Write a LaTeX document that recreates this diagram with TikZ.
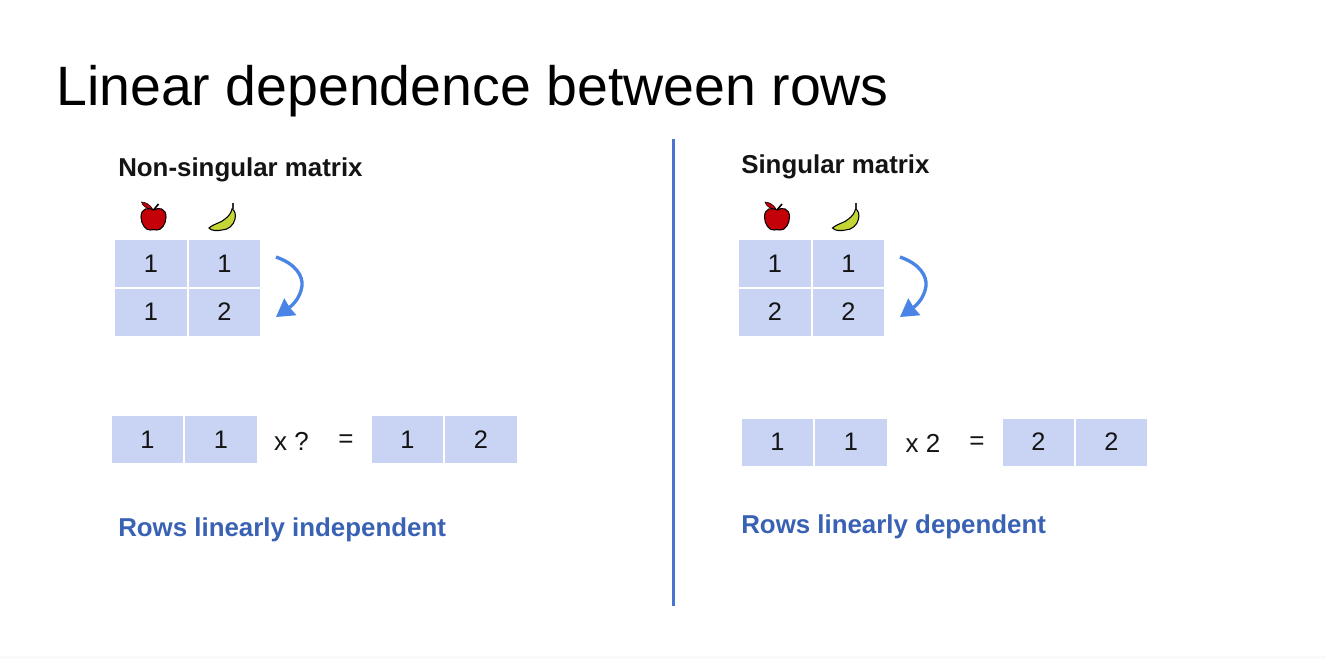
\documentclass[tikz,border=0pt]{standalone}
\usepackage{fontspec}
\setmainfont{Liberation Sans}
\usetikzlibrary{arrows.meta}
\definecolor{cellblue}{HTML}{C9D3F3}
\definecolor{arrowblue}{HTML}{4A84E4}
\definecolor{rulecol}{HTML}{4A74CF}
\definecolor{labelblue}{HTML}{3A62B4}
\definecolor{textblack}{HTML}{141414}
\definecolor{applered}{HTML}{C40008}
\definecolor{bananagreen}{HTML}{C3D636}
\tikzset{
  cellbox/.style={fill=cellblue,draw=none,minimum width=71.5*0.75pt,minimum height=47*0.75pt,inner sep=0pt,text=textblack,font=\fontsize{19}{19}\selectfont,anchor=center},
  headtext/.style={font=\bfseries\fontsize{19.4}{22}\selectfont,text=textblack,anchor=base west,inner sep=0pt},
  titletext/.style={font=\fontsize{41.6}{46}\selectfont,text=black,anchor=base west,inner sep=0pt},
  bluelabel/.style={font=\bfseries\fontsize{19.4}{22}\selectfont,text=labelblue,anchor=base west,inner sep=0pt},
  optext/.style={font=\fontsize{19.5}{20}\selectfont,text=textblack,inner sep=0pt,anchor=center},
  curvearrow/.style={draw=arrowblue,line width=2.5pt,-{Stealth[length=13pt,width=15pt,inset=0.5pt]}},
}
\newcommand{\myapple}[2]{%
  \begin{scope}[shift={(#1,#2)}]
    \draw[black,line width=0.8pt,fill=applered] (0,-7) .. controls (5,-10) and (12.5,-9) .. (12.5,0) .. controls (12.5,7) and (8,13.5) .. (3,13) .. controls (1,12.5) and (-1,12.5) .. (-3,13) .. controls (-8,13.5) and (-12.5,7) .. (-12.5,0) .. controls (-12.5,-9) and (-5,-10) .. (0,-7) -- cycle;
    \draw[black,line width=1.2pt] (0,-7) -- (5,-13);
    \draw[black,line width=0.4pt,fill=applered] (-1,-8) .. controls (-3,-12) and (-8,-15) .. (-12,-15) .. controls (-11,-11) and (-7,-8) .. (-1,-8) -- cycle;
  \end{scope}}
\newcommand{\mybanana}[2]{%
  \begin{scope}[shift={(#1,#2)}]
    \draw[black,line width=0.8pt,fill=bananagreen] (-14,11) .. controls (-8,6) and (-2,6) .. (2,2) .. controls (6,-1) and (8,-4) .. (9,-8) .. controls (12,-7) and (13,-2) .. (12,2) .. controls (11,8) and (5,13) .. (-1,13) .. controls (-5,14) and (-12,14) .. (-14,11) -- cycle;
    \draw[black!80,line width=1.5pt] (9.5,-8) -- (9.5,-14);
  \end{scope}}
\begin{document}
\begin{tikzpicture}[x=0.75pt,y=-0.75pt]
\useasboundingbox (0,0) rectangle (1326,659);
\fill[white] (0,0) rectangle (1326,659);
\fill[black!2] (0,656) rectangle (1326,659);

\node[titletext] (ttl) at (56,106) {Linear dependence between rows};

% divider
\coordinate (divtop) at (673.5,139);
\coordinate (divbot) at (673.5,606);
\draw[rulecol,line width=2.2pt] (divtop) -- (divbot);

% left
\node[headtext] (lhead) at (118,177) {Non-singular matrix};
\myapple{153.5}{217}
\mybanana{223}{217}
\node[cellbox] (l11) at (151,263.5) {1};
\node[cellbox] (l12) at (224.5,263.5) {1};
\node[cellbox] (l21) at (151,312) {1};
\node[cellbox] (l22) at (224.5,312) {2};
\coordinate (larrowa) at (276,257);
\coordinate (larrowb) at (276,317);
\draw[curvearrow] (larrowa) .. controls (296,264) and (303,276) .. (302,286) .. controls (300,300) and (290,307) .. (larrowb);

\node[cellbox] (la) at (147.5,439.5) {1};
\node[cellbox] (lb) at (221,439.5) {1};
\node[optext] (lx) at (291.5,441) {x ?};
\node[optext] (leq) at (346,441) {=};
\node[cellbox] (lc) at (407.5,439.5) {1};
\node[cellbox] (ld) at (481,439.5) {2};
\node[bluelabel] (lres) at (118,536) {Rows linearly independent};

% right
\node[headtext] (rhead) at (741,174) {Singular matrix};
\myapple{777}{217}
\mybanana{846.5}{217}
\node[cellbox] (r11) at (775,263.5) {1};
\node[cellbox] (r12) at (848.5,263.5) {1};
\node[cellbox] (r21) at (775,312) {2};
\node[cellbox] (r22) at (848.5,312) {2};
\coordinate (rarrowa) at (900,257);
\coordinate (rarrowb) at (900,317);
\draw[curvearrow] (rarrowa) .. controls (920,264) and (927,276) .. (926,286) .. controls (924,300) and (914,307) .. (rarrowb);

\node[cellbox] (ra) at (777.5,442) {1};
\node[cellbox] (rb) at (851,442) {1};
\node[optext] (rx) at (923,443) {x 2};
\node[optext] (req) at (977,443) {=};
\node[cellbox] (rc) at (1038.5,442) {2};
\node[cellbox] (rd) at (1111.5,442) {2};
\node[bluelabel] (rres) at (741,533) {Rows linearly dependent};
\end{tikzpicture}
\end{document}
